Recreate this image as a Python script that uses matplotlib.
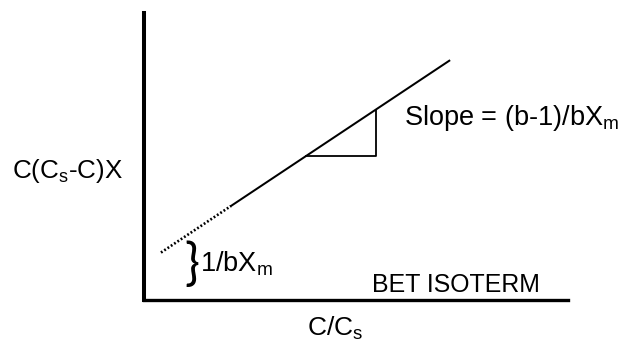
import matplotlib
matplotlib.use("Agg")
import matplotlib.pyplot as plt
import numpy as np

# BET isotherm schematic: linearised plot with extrapolated intercept
intercept = 0.126          # 1/bXm, where the line meets the vertical axis
slope = 0.983              # (b-1)/bXm
dotted_x = [0.04, 0.205]   # extrapolated part of the line
solid_x = [0.205, 0.72]    # measured range
tri_x = [0.382, 0.547]     # slope triangle run

x_label = "C/C$_\\mathrm{s}$"
y_label = "C(C$_\\mathrm{s}$-C)X"
slope_label = "Slope = (b-1)/bX$_\\mathrm{m}$"
intercept_label = "1/bX$_\\mathrm{m}$"
title_label = "BET ISOTERM"

FONT = ["Liberation Sans", "DejaVu Sans"]
plt.rcParams["font.family"] = FONT
plt.rcParams["mathtext.fontset"] = "custom"
plt.rcParams["mathtext.rm"] = "Liberation Sans"
plt.rcParams["mathtext.it"] = "Liberation Sans"

W, H = 626, 344
fig = plt.figure(figsize=(W / 100, H / 100), dpi=100)
x0, y0, x1, y1 = 144, 300, 568, 13
ax = fig.add_axes([x0 / W, 1 - y0 / H, (x1 - x0) / W, (y0 - y1) / H])
ax.set_xlim(0, 1)
ax.set_ylim(0, 1)
for side in ("top", "right"):
    ax.spines[side].set_visible(False)
ax.spines["left"].set_linewidth(2.9)
ax.spines["bottom"].set_linewidth(2.4)
ax.set_xticks([])
ax.set_yticks([])
ax.patch.set_alpha(0)


def line_y(x):
    return intercept + slope * np.asarray(x)


ax.plot(dotted_x, line_y(dotted_x), color="black", lw=1.9,
        linestyle=(0, (0.7, 0.8)), solid_capstyle="butt")
ax.plot(solid_x, line_y(solid_x), color="black", lw=1.45)

# slope triangle
ty = line_y(tri_x)
ax.plot([tri_x[0], tri_x[1], tri_x[1]], [ty[0], ty[0], ty[1]],
        color="black", lw=1.3)

ax.text(0.614, 0.635, slope_label, fontsize=19.5, ha="left", va="center")
ax.text(0.112, 0.118, "}", fontsize=36, ha="center", va="center",
        family=["Lato", "DejaVu Sans"], fontweight="normal")
ax.text(0.132, 0.125, intercept_label, fontsize=19.5, ha="left", va="center")
ax.text(0.538, 0.052, title_label, fontsize=17.9, ha="left", va="center")
ax.text(0.45, -0.10, x_label, fontsize=19, ha="center", va="center")
ax.text(-0.049, 0.449, y_label, fontsize=18.7, ha="right", va="center")

fig.savefig("out.png", dpi=100)
